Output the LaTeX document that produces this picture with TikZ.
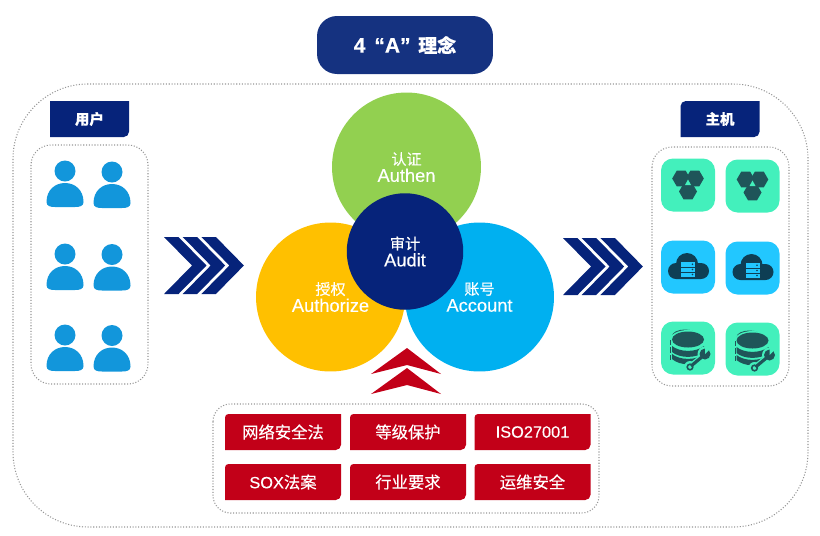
\documentclass[tikz,border=0pt]{standalone}
\usepackage{fontspec}
\setmainfont[FakeBold=0.3]{Liberation Sans}
\newfontfamily\zh[FakeBold=0.3]{Noto Sans CJK SC}
\newcommand{\disczh}{\zh\fontsize{8.6}{9.6}\selectfont}
\newcommand{\discen}{\fontsize{10.4}{11}\selectfont}
\definecolor{navyfill}{RGB}{6,35,122}
\definecolor{titlefill}{RGB}{21,50,128}
\definecolor{redfill}{RGB}{194,0,24}
\definecolor{personblue}{RGB}{18,150,219}
\definecolor{tilegreen}{RGB}{67,240,188}
\definecolor{tileblue}{RGB}{34,199,255}
\definecolor{icongreen}{RGB}{31,85,89}
\definecolor{iconblue}{RGB}{14,62,84}
\definecolor{dashgray}{RGB}{150,150,150}
\definecolor{discgreen}{RGB}{146,208,80}
\definecolor{discyellow}{RGB}{255,192,0}
\definecolor{discblue}{RGB}{0,176,240}
\tikzset{
  panel/.style={draw=dashgray, densely dotted, line width=0.6pt},
  disc/.style={circle, inner sep=0pt, text=white, align=center, minimum size=#1},
  tile/.style={rounded corners=0.24cm, minimum width=1.08cm, minimum height=1.06cm, inner sep=0pt},
  redlabel/.style={text=white, font=\fontsize{9.3}{11}\selectfont},
  taglabel/.style={text=white, font=\bfseries\fontsize{8.2}{10}\selectfont},
  person/.pic={
    \fill[personblue] (0,0) circle (10.5);
    \fill[personblue] (-18.5,31) .. controls (-18.5,19) and (-10,12) .. (0,12) .. controls (10,12) and (18.5,19) .. (18.5,31) .. controls (18.5,35) and (15,36) .. (10,36) -- (-10,36) .. controls (-15,36) and (-18.5,35) .. (-18.5,31) -- cycle;
  },
  navyplate/.pic={
    \fill[navyfill] (-39.5,18) -- (-39.5,-18) [sharp corners] -- (39.5,-18) [rounded corners=3pt] -- (39.5,18) [sharp corners] -- cycle;
  },
  hostplate/.pic={
    \fill[navyfill] (-39.5,18) [rounded corners=3pt] -- (-39.5,-18) [sharp corners] -- (39.5,-18) [rounded corners=3pt] -- (39.5,18) [sharp corners] -- cycle;
  },
  redplate/.pic={
    \fill[redfill] (-58,18) [rounded corners=2pt] -- (-58,-18) [sharp corners] -- (58,-18) [rounded corners=3pt] -- (58,18) [sharp corners] -- cycle;
  },
  chevron/.pic={
    \fill[pic actions] (0,0) -- (14.5,0) -- (42.5,28.5) -- (14.5,57) -- (0,57) -- (28,28.5) -- cycle;
  },
  hexicon/.pic={
    \fill[icongreen] (-6.8,-6.5) +(0:9) -- +(60:9) -- +(120:9) -- +(180:9) -- +(240:9) -- +(300:9) -- cycle;
    \fill[icongreen] (6.8,-6.5) +(0:9) -- +(60:9) -- +(120:9) -- +(180:9) -- +(240:9) -- +(300:9) -- cycle;
    \fill[icongreen] (0,6.5) +(0:9) -- +(60:9) -- +(120:9) -- +(180:9) -- +(240:9) -- +(300:9) -- cycle;
    \fill[tilegreen] (0,-5.5) -- (3,0) -- (-3,0) -- cycle;
  },
  cloudicon/.pic={
    \fill[iconblue] (-1,-3) circle (11);
    \fill[iconblue, rounded corners=0.16cm] (-20,-4) rectangle (21,12);
    \fill[tileblue] (-7,-5) rectangle (7,-0.5);
    \fill[tileblue] (-7,0.5) rectangle (7,4.5);
    \fill[tileblue] (-7,5.5) rectangle (7,9.5);
    \fill[iconblue] (4.5,-2.7) circle (0.9);
    \fill[iconblue] (4.5,2.5) circle (0.9);
    \fill[iconblue] (4.5,7.5) circle (0.9);
  },
  dbicon/.pic={
    % back disc, gap, then the top disc
    \fill[icongreen] (-3,-12) ellipse (13 and 6.5);
    \fill[tilegreen] (0,-8.5) ellipse (18 and 9.5);
    \fill[icongreen] (0,-8.5) ellipse (16 and 8);
    % stacked bands
    \fill[icongreen] (-16,-2) .. controls (-8,4.5) and (8,4.5) .. (16,-2) -- (16,4) .. controls (8,10.5) and (-8,10.5) .. (-16,4) -- cycle;
    \fill[icongreen] (-16,6) .. controls (-8,12.5) and (8,12.5) .. (16,6) -- (16,11) .. controls (8,18) and (-8,18) .. (-16,11) -- cycle;
    % left edge marks
    \fill[icongreen] (-18,-8) rectangle (-16.8,-3);
    \fill[icongreen] (-18,-1) rectangle (-16.8,5);
    \fill[icongreen] (-18,7) rectangle (-16.8,12);
    % wrench
    \draw[tilegreen, line width=3.6pt] (2,19) -- (17,7);
    \fill[tilegreen] (17,6) circle (7.5);
    \fill[tilegreen] (2,19) circle (6);
    \draw[icongreen, line width=1.8pt] (3,18) -- (15,8);
    \fill[icongreen] (17,6) circle (5.5);
    \fill[tilegreen] (17,6) -- (23,0) -- (17,-1) -- cycle;
    \draw[icongreen, line width=0.9pt] (2,19) circle (2.8);
  }
}
\begin{document}
\begin{tikzpicture}[x=0.02cm,y=-0.02cm]
\useasboundingbox (0,0) rectangle (820,535);

% Dashed panels
\draw[panel, rounded corners=1.5cm] (13,84) rectangle (808,527);
\draw[panel, rounded corners=0.4cm] (31,145) rectangle (148,384);
\draw[panel, rounded corners=0.4cm] (652,147) rectangle (789,386);
\draw[panel, rounded corners=0.35cm] (213,404) rectangle (599,513);

% Title
\node[fill=titlefill, rounded corners=0.4cm, minimum width=3.52cm, minimum height=1.16cm, text=white, font=\bfseries\fontsize{12}{14}\selectfont] (title) at (405,45) {4\kern5pt “A”\kern1pt\ {\zh\fontsize{10.8}{14}\selectfont 理念}};

% Side tags
\pic at (89.5,119) {navyplate};
\node[taglabel] (usertag) at (89.5,119) {\zh 用户};
\pic at (720,119) {hostplate};
\node[taglabel] (hosttag) at (720,119) {\zh 主机};

% Users
\pic at (65,171) {person};
\pic at (112,172) {person};
\pic at (65,254) {person};
\pic at (112,254.5) {person};
\pic at (65,335) {person};
\pic at (112,335.5) {person};

% Left arrow
\pic[navyfill] at (164,237) {chevron};
\pic[navyfill] at (182.7,237) {chevron};
\pic[navyfill] at (201.4,237) {chevron};

% Right arrow
\pic[navyfill] at (563,238) {chevron};
\pic[navyfill] at (581.7,238) {chevron};
\pic[navyfill] at (600.4,238) {chevron};

% Circles
\node[disc=2.98cm, fill=discgreen] (authen) at (406.5,167) {{\disczh 认证}\\[-2.3pt]{\discen Authen}};
\node[disc=2.98cm, fill=discyellow] (authorize) at (330.5,297) {{\disczh 授权}\\[-2.3pt]{\discen Authorize}};
\node[disc=2.98cm, fill=discblue] (account) at (479.5,297) {{\disczh 账号}\\[-2.3pt]{\discen Account}};
\node[disc=2.33cm, fill=navyfill] (audit) at (405,251.5) {{\disczh 审计}\\[-2.3pt]{\discen Audit}};

% Red arrow
\fill[redfill] (407,348) -- (441,374) -- (407,365) -- (371,374) -- cycle;
\fill[redfill] (407,368) -- (441,394) -- (407,385) -- (371,394) -- cycle;

% Red boxes
\pic at (283,432) {redplate};
\node[redlabel] (law) at (283,432) {\zh 网络安全法};
\pic at (408,432) {redplate};
\node[redlabel] (grade) at (408,432) {\zh 等级保护};
\pic at (532.5,432) {redplate};
\node[redlabel] (iso) at (532.5,432) {ISO27001};
\pic at (283,482) {redplate};
\node[redlabel] (sox) at (283,482) {SOX{\zh 法案}};
\pic at (408,482) {redplate};
\node[redlabel] (trade) at (408,482) {\zh 行业要求};
\pic at (532.5,482) {redplate};
\node[redlabel] (ops) at (532.5,482) {\zh 运维安全};

% Host tiles
\node[tile, fill=tilegreen] (hexa) at (688,185) {};
\node[tile, fill=tilegreen] (hexb) at (752.5,186) {};
\node[tile, fill=tileblue] (clouda) at (688,267) {};
\node[tile, fill=tileblue] (cloudb) at (752.5,268) {};
\node[tile, fill=tilegreen] (dba) at (688,348) {};
\node[tile, fill=tilegreen] (dbb) at (752.5,349) {};
\pic at (hexa) {hexicon};
\pic at (hexb) {hexicon};
\pic at (clouda) {cloudicon};
\pic at (cloudb) {cloudicon};
\pic at (dba) {dbicon};
\pic at (dbb) {dbicon};

\end{tikzpicture}
\end{document}
